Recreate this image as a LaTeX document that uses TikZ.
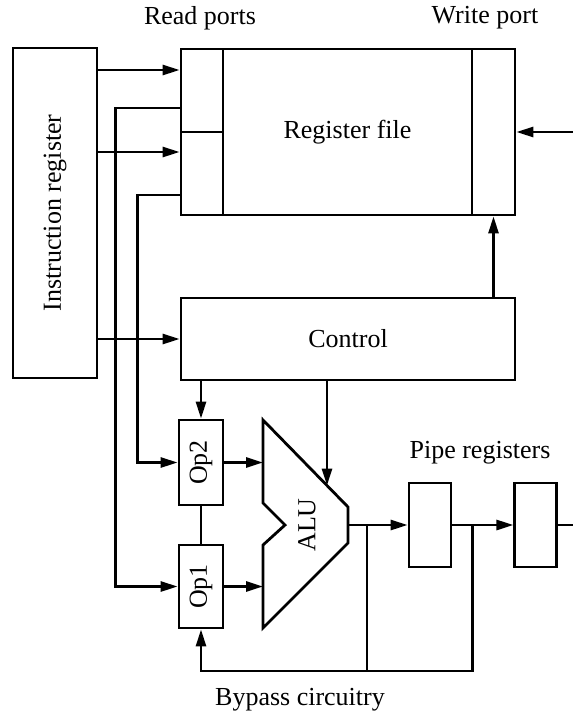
\documentclass[tikz,border=0pt]{standalone}
\usepackage{fontspec}
\setmainfont{Liberation Serif}
\usetikzlibrary{arrows.meta,calc,positioning}

\begin{document}
\begin{tikzpicture}[
    x=1pt, y=-1pt,
    font=\fontsize{26}{30}\selectfont,
    block/.style={
      rectangle,
      draw,
      line width=2.8pt,
      inner sep=0pt,
    },
    wire/.style={line width=2.8pt},
    arr/.style={line width=2.8pt, -{Triangle[length=17pt,width=10pt]}},
  ]
    \useasboundingbox (0,0) rectangle (573,721);

    % instruction register
    \node[block, minimum width=84pt, minimum height=330pt] (IR) at (55,213)
      {\rotatebox{90}{Instruction register}};

    % register file with its ports
    \node[block, minimum width=42pt, minimum height=83pt] (ReadA) at (202,90.5) {};
    \node[block, minimum width=42pt, minimum height=83pt] (ReadB) at (202,173.5) {};
    \node[block, minimum width=249pt, minimum height=166pt] (RegFile) at (347.5,132) {Register file};
    \node[block, minimum width=43pt, minimum height=166pt] (WritePort) at (493.5,132) {};
    \node (ReadLabel) at (200,18) {Read ports};
    \node (WriteLabel) at (485,18) {Write port};

    % control
    \node[block, minimum width=334pt, minimum height=82pt] (Control) at (348,339) {Control};

    % operand registers
    \node[block, minimum width=44pt, minimum height=85pt] (Op2) at (201,462.5) {\rotatebox{90}{Op2}};
    \node[block, minimum width=44pt, minimum height=83pt] (Op1) at (201,586.5) {\rotatebox{90}{Op1}};

    % ALU
    \coordinate (AluTL) at (263,420);
    \coordinate (AluTR) at (348,507);
    \coordinate (AluBR) at (348,543);
    \coordinate (AluBL) at (263,628);
    \coordinate (AluNotchB) at (263,545);
    \coordinate (AluNotch) at (285,525);
    \coordinate (AluNotchT) at (263,503);
    \coordinate (AluOut) at (348,525);
    \draw[line width=2.8pt, line join=miter] (AluTL) -- (AluTR) -- (AluBR) -- (AluBL)
      -- (AluNotchB) -- (AluNotch) -- (AluNotchT) -- cycle;
    \node (AluText) at (307,525) {\rotatebox{90}{ALU}};

    % pipe registers
    \node[block, minimum width=42pt, minimum height=84pt] (Pipe1) at (430,525) {};
    \node[block, minimum width=42pt, minimum height=84pt, right=61pt of Pipe1] (Pipe2) {};
    \node (PipeLabel) at (480,453) {Pipe registers};
    \node (BypassLabel) at (300,700) {Bypass circuitry};

    % instruction register to ports and control
    \draw[arr] (IR.east |- 0,70) -- (ReadA.west |- 0,70);
    \draw[arr] (IR.east |- 0,152) -- (ReadB.west |- 0,152);
    \draw[arr] (IR.east |- Control.west) -- (Control.west);

    % read ports down to operands
    \draw[arr] (ReadA.west |- 0,108) -| ([xshift=-62pt]Op1.west) -- (Op1.west);
    \draw[arr] (ReadB.west |- 0,195) -| ([xshift=-40pt]Op2.west) -- (Op2.west);

    % control outputs
    \coordinate (AluCtl) at ($(AluTL)!0.753!(AluTR)$);
    \draw[arr] (Control.south -| Op2.north) -- (Op2.north);
    \draw[arr] (Control.south -| AluCtl) -- (AluCtl);
    \draw[arr] (Control.north -| WritePort.south) -- (WritePort.south);

    % write data in
    \coordinate (WriteIn) at (573,132);
    \draw[arr] (WriteIn) -- (WritePort.east);

    % operands into ALU
    \draw[wire] (Op2.south) -- (Op1.north);
    \draw[arr] (Op2.east) -- (Op2.east -| AluTL);
    \draw[arr] (Op1.east) -- (Op1.east -| AluTL);

    % pipeline
    \coordinate (PipeOut) at (573,525);
    \draw[arr] (AluOut) -- (Pipe1.west);
    \draw[arr] (Pipe1.east) -- (Pipe2.west);
    \draw[wire] (Pipe2.east) -- (PipeOut);

    % bypass
    \coordinate (TapA) at ([xshift=19pt]AluOut);
    \coordinate (TapB) at ([xshift=20pt]Pipe1.east);
    \draw[wire] (TapA) -- (TapA |- 0,671);
    \draw[arr] (TapB) |- (Op1.south |- 0,671) -- (Op1.south);
  \end{tikzpicture}
\end{document}
